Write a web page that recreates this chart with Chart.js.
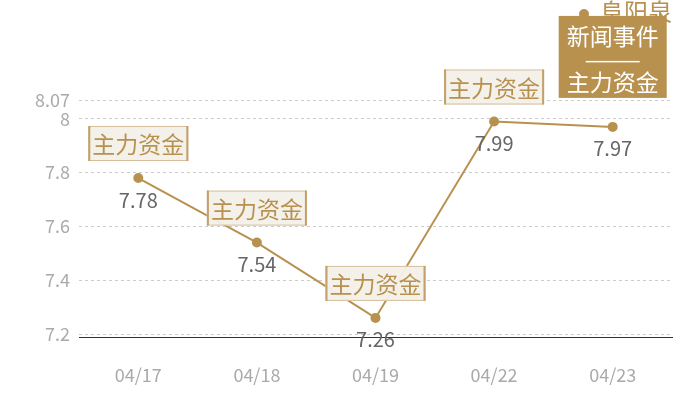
<!DOCTYPE html>
<html>
<head>
<meta charset="utf-8">
<script src="https://cdn.jsdelivr.net/npm/chart.js@4"></script>
<style>
  html, body { margin: 0; padding: 0; background: #fff; }
  #wrap { width: 700px; height: 400px; }
</style>
</head>
<body>
<div id="wrap"><canvas id="price"></canvas></div>
<script>
var labels = ['04/17', '04/18', '04/19', '04/22', '04/23'];
var prices = [7.78, 7.54, 7.26, 7.99, 7.97];
var yTicks = [7.2, 7.4, 7.6, 7.8, 8, 8.07];
var seriesName = '阜阳泉';
var notes = [['主力资金'], ['主力资金'], ['主力资金'], ['主力资金'], ['新闻事件', '主力资金']];

var gold = '#b8914f';
var font = '"Noto Sans CJK SC", "Noto Sans", sans-serif';

// value under each point, legend in the corner, note boxes above points
var extras = {
    id: 'extras',
    afterDatasetsDraw: function (chart) {
        var c = chart.ctx;
        var meta = chart.getDatasetMeta(0);
        c.save();
        c.textAlign = 'center';
        c.textBaseline = 'middle';
        c.font = '20px ' + font;
        c.fillStyle = '#666';
        meta.data.forEach(function (pt, i) {
            c.fillText(String(prices[i]), pt.x, pt.y + 22);
        });

        // legend
        c.fillStyle = gold;
        c.beginPath();
        c.arc(584, 14, 5, 0, Math.PI * 2);
        c.fill();
        c.textAlign = 'left';
        c.font = '24px ' + font;
        c.fillText(seriesName, 600, 12);

        meta.data.forEach(function (pt, i) {
            var lines = notes[i];
            c.textAlign = 'center';
            c.textBaseline = 'middle';
            if (lines.length === 1) {
                var w = 100, h = 35;
                var x = pt.x - w / 2, y = pt.y - 17 - h;
                c.fillStyle = 'rgba(244,240,234,0.96)';
                c.fillRect(x, y, w, h);
                c.strokeStyle = '#d6bf9c';
                c.lineWidth = 1;
                c.strokeRect(x + 0.5, y + 0.5, w - 1, h - 1);
                c.fillStyle = '#c4a06a';
                c.fillRect(x, y, 2, h);
                c.fillRect(x + w - 2, y, 2, h);
                c.font = '23px ' + font;
                c.fillStyle = '#b8914f';
                c.fillText(lines[0], pt.x, y + h / 2 + 1);
            } else {
                var w2 = 108, h2 = 82;
                var x2 = pt.x - w2 / 2, y2 = pt.y - 29 - h2;
                c.fillStyle = gold;
                c.fillRect(x2, y2, w2, h2);
                c.fillStyle = '#fff';
                c.font = '23px ' + font;
                c.fillText(lines[0], pt.x, y2 + 20);
                c.fillRect(pt.x - 27, y2 + 45, 54, 1.5);
                c.fillText(lines[1], pt.x, y2 + 66);
            }
        });
        c.restore();
    }
};

new Chart(document.getElementById('price'), {
    type: 'line',
    data: {
        labels: labels,
        datasets: [{
            label: seriesName,
            data: prices,
            borderColor: gold,
            backgroundColor: gold,
            borderWidth: 2,
            pointRadius: 4,
            pointHoverRadius: 4,
            tension: 0
        }]
    },
    plugins: [extras],
    options: {
        responsive: true,
        maintainAspectRatio: false,
        animation: false,
        layout: { padding: { top: 100, right: 28, left: 0, bottom: 0 } },
        plugins: {
            legend: { display: false },
            tooltip: { enabled: false }
        },
        scales: {
            x: {
                offset: true,
                grid: { display: false },
                border: { display: true, color: '#333', width: 1 },
                ticks: { color: '#aaa', font: { family: font, size: 18 }, padding: 19 },
                afterFit: function (axis) { axis.height = 63; }
            },
            y: {
                min: 7.189,
                max: 8.07,
                afterBuildTicks: function (axis) {
                    axis.ticks = yTicks.map(function (v) { return { value: v }; });
                },
                grid: {
                    color: '#ccc',
                    drawTicks: false
                },
                border: { display: false, dash: [3, 3] },
                ticks: {
                    color: '#aaa',
                    font: { family: font, size: 18 },
                    padding: 9,
                    callback: function (v) { return String(v); }
                },
                afterFit: function (axis) { axis.width = 79; }
            }
        }
    }
});
</script>
</body>
</html>
